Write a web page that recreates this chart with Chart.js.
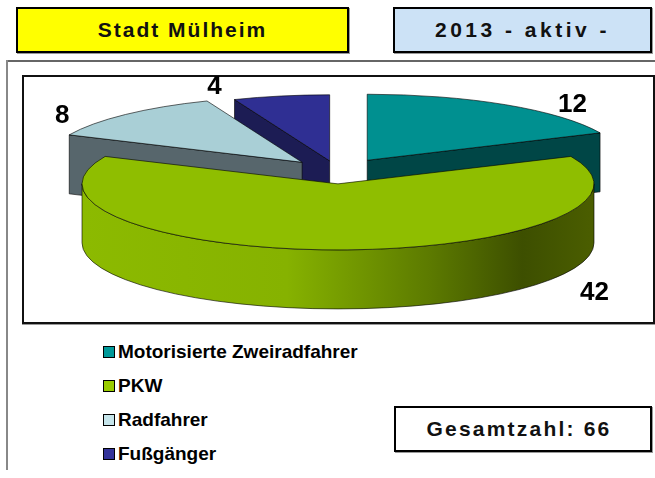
<!DOCTYPE html>
<html>
<head>
<meta charset="utf-8">
<script src="https://cdn.jsdelivr.net/npm/chart.js@4/dist/chart.umd.min.js"></script>
<style>
  body{margin:0;width:655px;height:478px;background:#fff;position:relative;overflow:hidden;font-family:"Liberation Sans",Arial,sans-serif}
  .box{position:absolute;box-sizing:border-box;border:2px solid #000;box-shadow:1px 1px 0 #999;display:flex;align-items:center;justify-content:center;font-weight:bold;font-size:21px;letter-spacing:2px;color:#111}
  #frameTop{position:absolute;left:7px;top:60px;width:648px;height:0;border-top:2px solid #666}
  #frameLeft{position:absolute;left:6px;top:60px;width:0;height:410px;border-left:2px solid #888}
  #plotBox{position:absolute;left:22px;top:75px;width:633px;height:249px;box-sizing:border-box;border:2px solid #111;box-shadow:0 1px 0 #999}
  #legend{position:absolute;left:103px;top:335px}
  .item{height:34px;display:flex;align-items:center;font-weight:bold;font-size:19px;color:#000}
  .sw{width:10px;height:10px;border:1px solid #000;margin-right:3px}
  #wrap{position:absolute;left:0;top:0;width:655px;height:478px}
</style>
</head>
<body>
<div class="box" style="left:16px;top:7px;width:333px;height:46px;background:#ffff00">Stadt Mülheim</div>
<div class="box" style="left:393px;top:7px;width:259px;height:46px;background:#cce2f6;letter-spacing:3.5px">2013 - aktiv -</div>
<div id="frameTop"></div>
<div id="frameLeft"></div>
<div id="plotBox"></div>
<div id="legend"></div>
<div class="box" id="total" style="left:394px;top:406px;width:258px;height:46px;background:#fff;letter-spacing:2.2px;padding-right:8px"></div>
<div id="wrap"><canvas id="pie" width="655" height="478"></canvas></div>

<script>
// ====== DATA ======
const categories = ['Motorisierte Zweiradfahrer', 'PKW', 'Radfahrer', 'Fußgänger'];
const counts = [12, 42, 8, 4];

// ====== STYLE ======
const topColors = ['#009090', '#8fbe00', '#a9cfd6', '#2f2f93'];
const sideColors = ['#004646', null, '#57666c', '#1c1c54'];
const legendColors = ['#009999', '#99cc00', '#c6e5eb', '#333399'];

// legend + total as html
document.getElementById('legend').innerHTML = categories.map((c,i)=>
  `<div class="item"><span class="sw" style="background:${legendColors[i]}"></span>${c}</div>`).join('');
document.getElementById('total').textContent = 'Gesamtzahl: ' + counts.reduce((s,v)=>s+v,0);

// ====== 3D PIE PLUGIN ======
const pie3d = {
  id: 'pie3d',
  beforeDatasetsDraw(chart, args, opts){
    const ctx = chart.ctx, arcs = chart.getDatasetMeta(0).data;
    const order = arcs.map((a,i)=>i).sort((i,j)=>Math.sin(mid(arcs[i]))-Math.sin(mid(arcs[j])));
    ctx.save();
    ctx.lineWidth = 1;
    for(const i of order) drawSlice(ctx, arcs[i], i, opts);
    ctx.restore();
    return false; // skip the flat default arcs
  },
  afterDraw(chart, args, opts){
    const ctx = chart.ctx, arcs = chart.getDatasetMeta(0).data;
    ctx.save();
    ctx.font = 'bold 26px "Liberation Sans", Arial, sans-serif';
    ctx.fillStyle = '#000'; ctx.textAlign = 'center'; ctx.textBaseline = 'middle';
    arcs.forEach((arc,i)=>{
      const g = geom(arc, opts), lp = opts.labelPos[i];
      const a = g.a1 + lp[0]*(g.a2-g.a1);
      const px = g.cx + g.r*lp[1]*Math.cos(a);
      const py = g.cy + g.r*opts.tilt*lp[1]*Math.sin(a) + (lp[2] ? opts.depth : 0);
      ctx.fillText(String(chart.data.datasets[0].data[i]), px, py);
    });
    ctx.restore();
  }
};
function mid(arc){ return (arc.startAngle+arc.endAngle)/2; }
function geom(arc, opts){
  const {x, y, startAngle:a1, endAngle:a2, outerRadius:r} = arc.getProps(['x','y','startAngle','endAngle','outerRadius'], true);
  const off = arc.options.offset || 0, m = (a1+a2)/2;
  return { a1, a2, r, cx: x + Math.cos(m)*off, cy: y + Math.sin(m)*off*opts.tilt };
}
function drawSlice(ctx, arc, i, opts){
  const {a1, a2, r, cx, cy} = geom(arc, opts);
  const k = opts.tilt, d = opts.depth, ry = r*k;
  const pt = a => [cx + r*Math.cos(a), cy + ry*Math.sin(a)];
  ctx.strokeStyle = 'rgba(0,0,0,0.6)';
  // radial cut faces
  const face = a => { const [px,py] = pt(a);
    ctx.beginPath(); ctx.moveTo(cx,cy); ctx.lineTo(px,py); ctx.lineTo(px,py+d); ctx.lineTo(cx,cy+d); ctx.closePath();
    ctx.fillStyle = opts.sideColors[i] || '#4b6000'; ctx.fill(); ctx.stroke(); };
  if(Math.cos(a1) < -1e-6) face(a1);
  if(Math.cos(a2) > 1e-6) face(a2);
  // outer wall, front half only
  const s = Math.max(a1, 0), e = Math.min(a2, Math.PI);
  if(s < e){
    let fill = opts.sideColors[i];
    if(!fill){
      fill = ctx.createLinearGradient(cx-r, 0, cx+r, 0);
      opts.wallStops.forEach(([p,c])=>fill.addColorStop(p,c));
    }
    ctx.beginPath(); ctx.ellipse(cx, cy, r, ry, 0, s, e); ctx.ellipse(cx, cy+d, r, ry, 0, e, s, true); ctx.closePath();
    ctx.fillStyle = fill; ctx.fill(); ctx.stroke();
  }
  // top face
  ctx.beginPath(); ctx.moveTo(cx,cy); ctx.ellipse(cx, cy, r, ry, 0, a1, a2); ctx.closePath();
  ctx.fillStyle = arc.options.backgroundColor; ctx.fill(); ctx.stroke();
}

// ====== CHART ======
new Chart(document.getElementById('pie'), {
  type: 'pie',
  data: { labels: categories, datasets: [{ data: counts, backgroundColor: topColors, borderWidth: 0, offset: [54, 46, 52, 44] }] },
  options: {
    responsive: false, animation: false, events: [],
    radius: 256,
    layout: { padding: { left: 21, right: 0, top: 0, bottom: 134 } },
    plugins: {
      legend: { display: false }, tooltip: { enabled: false },
      pie3d: {
        tilt: 0.258, depth: 59, sideColors,
        wallStops: [[0,'#8cba00'],[0.4,'#86b200'],[0.68,'#5c7a00'],[0.86,'#3d4f00'],[1,'#4b5e00']],
        labelPos: [[0.67,1.157,false],[0.27,1.26,true],[0.28,1.17,false],[0,1.21,false]]
      }
    }
  },
  plugins: [pie3d]
});
</script>
</body>
</html>
